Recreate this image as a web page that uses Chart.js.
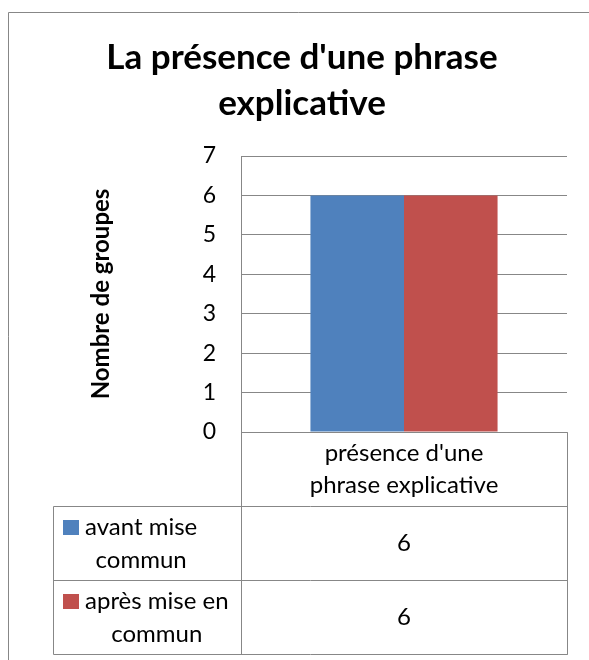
<!DOCTYPE html>
<html>
<head>
<meta charset="utf-8">
<script src="https://cdn.jsdelivr.net/npm/chart.js@4.4.1/dist/chart.umd.min.js"></script>
<style>
  html, body { margin: 0; padding: 0; background: #fff; }
</style>
</head>
<body>
<canvas id="chart" width="589" height="660"></canvas>
<script>
// data
const categories = [["présence d'une", 'phrase explicative']];
const seriesNames = [['avant mise', 'commun'], ['après mise en', 'commun']];
const avantValues = [6];
const apresValues = [6];
const yMin = 0;
const yMax = 7;
const yStep = 1;

const blue = '#4f81bd';
const red = '#c0504d';
const gray = '#878787';

// Excel style data table under the plot, plus the outer chart border
const dataTable = {
  id: 'dataTable',
  afterDraw(chart) {
    const { ctx, chartArea: a } = chart;
    const xs = chart.scales.x;
    const headerH = 74;
    const rowH = 73.5;
    const legendLeft = 53.5;
    const top = Math.round(a.bottom) + 0.5;
    const left = Math.round(a.left) + 0.5;
    const right = Math.round(a.right) + 0.5;
    const half = (a.right - a.left) / chart.data.labels.length / 2;

    ctx.save();
    ctx.strokeStyle = gray;
    ctx.lineWidth = 1;

    // outer border
    ctx.beginPath();
    ctx.moveTo(8.5, 660);
    ctx.lineTo(8.5, 12.5);
    ctx.lineTo(589, 12.5);
    ctx.stroke();

    const rowTops = [top + headerH];
    chart.data.datasets.forEach((d, i) => rowTops.push(Math.round(rowTops[i] + rowH) + 0.5));
    const bottom = rowTops[rowTops.length - 1];

    // grid of the table
    ctx.beginPath();
    ctx.moveTo(left, top); ctx.lineTo(right, top);
    rowTops.forEach((y) => { ctx.moveTo(legendLeft, y); ctx.lineTo(right, y); });
    ctx.moveTo(left, top); ctx.lineTo(left, bottom);
    ctx.moveTo(right, top); ctx.lineTo(right, bottom);
    ctx.moveTo(legendLeft, rowTops[0]); ctx.lineTo(legendLeft, bottom);
    chart.data.labels.forEach((l, i) => {
      const xr = Math.round(xs.getPixelForValue(i) + half) + 0.5;
      ctx.moveTo(xr, top); ctx.lineTo(xr, bottom);
    });
    ctx.stroke();

    ctx.fillStyle = '#000';
    ctx.font = '24px Lato';
    ctx.textAlign = 'center';
    ctx.textBaseline = 'middle';

    // category header
    chart.data.labels.forEach((lines, i) => {
      const cx = xs.getPixelForValue(i);
      const cy = top + headerH / 2;
      lines.forEach((t, k) => ctx.fillText(t, cx, cy + (k - (lines.length - 1) / 2) * 32));
    });

    // series rows
    chart.data.datasets.forEach((d, r) => {
      const y0 = rowTops[r];
      const y1 = rowTops[r + 1];
      const cy = (y0 + y1) / 2;
      const lines = d.label;
      const gap = 33;
      const firstY = cy - (lines.length - 1) / 2 * gap;
      const w = Math.max(...lines.map((t) => ctx.measureText(t).width));
      const tx = 85 + w / 2;
      lines.forEach((t, k) => ctx.fillText(t, tx, firstY + k * gap));
      ctx.fillStyle = d.backgroundColor;
      ctx.fillRect(63, Math.round(firstY - 7.5), 16, 15);
      ctx.fillStyle = '#000';
      d.data.forEach((v, i) => ctx.fillText(String(v), xs.getPixelForValue(i), cy));
    });

    ctx.restore();
  },
};

Chart.defaults.font.family = 'Lato';
Chart.defaults.color = '#000';

new Chart(document.getElementById('chart'), {
  type: 'bar',
  data: {
    labels: categories,
    datasets: [
      { label: seriesNames[0], data: avantValues, backgroundColor: blue },
      { label: seriesNames[1], data: apresValues, backgroundColor: red },
    ],
  },
  options: {
    responsive: false,
    animation: false,
    layout: { padding: { left: 37, right: 22, top: 0, bottom: 228 } },
    datasets: { bar: { categoryPercentage: 0.574, barPercentage: 1 } },
    plugins: {
      legend: { display: false },
      tooltip: { enabled: false },
      title: {
        display: true,
        text: ["La présence d'une phrase", 'explicative'],
        color: '#000',
        font: { size: 35, weight: 'bold', lineHeight: 1.3 },
        padding: { top: 35, bottom: 30 },
      },
    },
    scales: {
      x: { display: false },
      y: {
        min: yMin,
        max: yMax,
        ticks: { stepSize: yStep, padding: 25, font: { size: 23 }, color: '#000' },
        grid: { color: gray, drawTicks: false },
        border: { display: true, color: gray },
        title: {
          display: true,
          text: 'Nombre de groupes',
          color: '#000',
          font: { size: 24, weight: 'bold' },
          padding: { top: 50, bottom: 0 },
        },
        afterFit(scale) { scale.width = 204; },
      },
    },
  },
  plugins: [dataTable],
});
</script>
</body>
</html>
